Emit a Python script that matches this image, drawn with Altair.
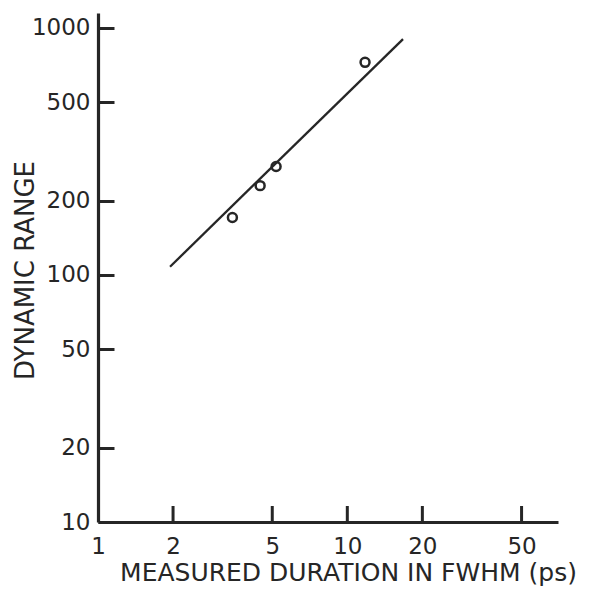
import altair as alt
import pandas as pd

# Data
duration = [3.46, 4.47, 5.18, 11.78]
dyn_range = [171, 230, 275, 726]
fit_x = [1.945, 16.73]
fit_y = [108, 902]
x_ticks = [1, 2, 5, 10, 20, 50]
y_ticks = [10, 20, 50, 100, 200, 500, 1000]

INK = "#262626"
W, H = 460, 509
TICK = 16
X_MAX = 70
Y_MAX = 1150

pts = pd.DataFrame({"d": duration, "r": dyn_range})
fit = pd.DataFrame({"d": fit_x, "r": fit_y})
xt = pd.DataFrame({"d": [t for t in x_ticks if t != 1]})

xscale = alt.Scale(type="log", domain=[1, X_MAX], nice=False)
yscale = alt.Scale(type="log", domain=[10, Y_MAX], nice=False)

xaxis = alt.Axis(
    values=x_ticks, format="d", grid=False, ticks=False, tickSize=0,
    domainColor=INK, domainWidth=3.2,
    labelFont="DejaVu Sans", labelFontSize=23, labelColor=INK, labelPadding=13,
    labelBaseline="top", labelFlush=False, labelOverlap=False,
    title="MEASURED DURATION IN FWHM (ps)", titleFont="DejaVu Sans",
    titleFontSize=25, titleFontWeight="normal", titleColor=INK,
    titleX=250, titleY=58, titleBaseline="alphabetic", titleAlign="center",
)
# inward y ticks drawn as grid lines dashed so only the first 16 px show
yaxis = alt.Axis(
    values=y_ticks, format="d", ticks=False, tickSize=0,
    grid=True, gridColor=INK, gridOpacity=1, gridWidth=3,
    gridDash=[TICK, 2000], gridCap="butt",
    domainColor=INK, domainWidth=3.2,
    labelFont="DejaVu Sans", labelFontSize=23, labelColor=INK, labelPadding=8,
    labelFlush=False, labelOverlap=False,
    title="DYNAMIC RANGE", titleFont="DejaVu Sans",
    titleFontSize=26, titleFontWeight="normal", titleColor=INK,
    titleX=-65, titleY=257, titleBaseline="alphabetic", titleAlign="center",
)

line = alt.Chart(fit).mark_line(color=INK, strokeWidth=2.3).encode(
    x=alt.X("d:Q", scale=xscale, axis=xaxis),
    y=alt.Y("r:Q", scale=yscale, axis=yaxis),
)
points = alt.Chart(pts).mark_point(
    shape="circle", filled=False, size=80, strokeWidth=2.5, color=INK, opacity=1
).encode(x=alt.X("d:Q", scale=xscale), y=alt.Y("r:Q", scale=yscale))
xtick_marks = alt.Chart(xt).mark_rule(color=INK, strokeWidth=3).encode(
    x=alt.X("d:Q", scale=xscale), y=alt.value(H), y2=alt.value(H - TICK)
)

chart = alt.layer(line, points, xtick_marks).properties(
    width=W, height=H,
    autosize=alt.AutoSizeParams(type="none"),
    padding={"left": 90, "top": 5, "right": 25, "bottom": 64},
    background="white",
).configure_view(stroke=None)

chart.save("out.html", embed_options={"renderer": "svg", "actions": False})
